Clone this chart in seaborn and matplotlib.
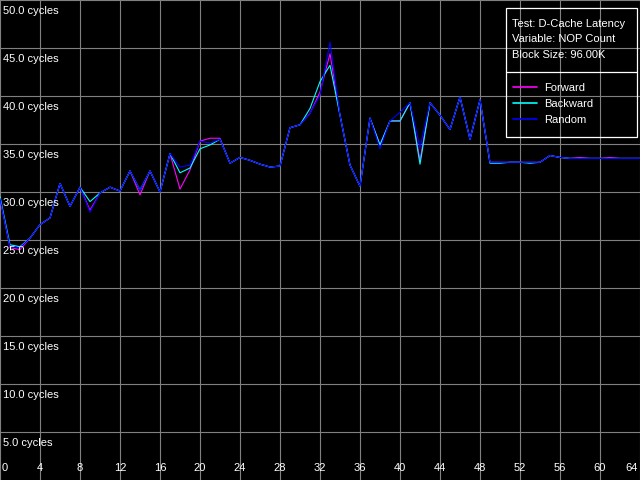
import numpy as np
import pandas as pd
import matplotlib
matplotlib.use('Agg')
import matplotlib.pyplot as plt
import seaborn as sns

# NOP count on x, latency in cycles on y
nops = list(range(65))

random_lat = [29.3, 24.3, 24.2, 25.2, 26.6, 27.3, 30.9, 28.5, 30.5, 27.9,
              29.9, 30.5, 30.1, 32.2, 30.2, 32.2, 30.0, 34.0, 32.6, 32.8,
              35.3, 35.1, 35.5, 33.0, 33.6, 33.3, 32.9, 32.6, 32.7, 36.7,
              37.0, 38.2, 40.1, 45.6, 38.0, 32.8, 30.6, 37.7, 34.5, 37.4,
              38.3, 39.3, 34.6, 39.3, 38.0, 36.5, 39.9, 35.5, 39.6, 33.1,
              33.1, 33.1, 33.1, 33.1, 33.1, 33.8, 33.6, 33.5, 33.5, 33.5,
              33.5, 33.5, 33.5, 33.5, 33.5]

forward_lat = [29.3, 24.2, 24.0, 25.2, 26.6, 27.3, 30.9, 28.5, 30.5, 28.1,
               29.9, 30.5, 30.1, 32.2, 29.7, 32.2, 30.0, 34.0, 30.3, 32.3,
               35.3, 35.6, 35.6, 33.0, 33.6, 33.3, 32.9, 32.6, 32.7, 36.7,
               37.0, 38.2, 40.4, 44.4, 38.0, 32.8, 30.6, 37.7, 34.9, 37.4,
               37.4, 39.3, 33.3, 39.3, 38.0, 36.5, 39.9, 35.5, 39.6, 33.1,
               33.1, 33.1, 33.1, 33.1, 33.1, 33.8, 33.6, 33.5, 33.6, 33.5,
               33.5, 33.6, 33.5, 33.5, 33.5]

backward_lat = [29.5, 24.5, 24.3, 25.2, 26.6, 27.3, 30.9, 28.5, 30.5, 29.0,
                29.9, 30.5, 30.1, 32.2, 30.2, 32.2, 30.0, 34.0, 32.0, 32.5,
                34.5, 34.9, 35.5, 33.0, 33.6, 33.3, 32.9, 32.6, 32.7, 36.7,
                37.0, 38.7, 41.5, 43.2, 38.0, 32.8, 30.6, 37.7, 34.9, 37.4,
                37.4, 39.3, 32.9, 39.3, 38.0, 36.5, 39.9, 35.5, 39.6, 33.0,
                33.0, 33.1, 33.1, 33.0, 33.1, 33.8, 33.6, 33.5, 33.5, 33.5,
                33.5, 33.5, 33.5, 33.5, 33.5]

series_names = ['Forward', 'Backward', 'Random']
colors = {'Forward': '#ff00ff', 'Backward': '#00ffff', 'Random': '#0000ff'}

x_ticks = list(range(0, 65, 4))
y_ticks = [5, 10, 15, 20, 25, 30, 35, 40, 45, 50]

info_lines = ['Test: D-Cache Latency', 'Variable: NOP Count', 'Block Size: 96.00K']

df = pd.DataFrame({
    'NOPs': nops * 3,
    'Cycles': forward_lat + backward_lat + random_lat,
    'Mode': ['Forward'] * 65 + ['Backward'] * 65 + ['Random'] * 65,
})

sns.set_theme(style='dark')
plt.rcParams['font.family'] = ['Liberation Sans', 'DejaVu Sans']

fig = plt.figure(figsize=(6.4, 4.8), dpi=100, facecolor='black')
ax = fig.add_axes([0, 0, 1, 1])
ax.set_facecolor('black')

sns.lineplot(data=df, x='NOPs', y='Cycles', hue='Mode', hue_order=series_names,
             palette=colors, linewidth=0.8, ax=ax, legend=True)

ax.set_xlim(0, 64)
ax.set_ylim(0, 50)
for v in x_ticks:
    ax.axvline(v, color='#808080', lw=0.8, zorder=0)
for v in y_ticks:
    ax.axhline(v, color='#808080', lw=0.8, zorder=0)
ax.set_xticks([])
ax.set_yticks([])
ax.set_xlabel('')
ax.set_ylabel('')
for s in ax.spines.values():
    s.set_visible(False)

fs = 8
# y labels sit just under their grid line
for v in y_ticks:
    ax.text(0.3, v - 1.15, f'{v:.1f} cycles', color='white', fontsize=fs,
            ha='left', va='center')
# x labels along the bottom
for v in x_ticks:
    ha = 'center'
    xx = v
    if v == 0:
        ha, xx = 'left', 0.2
    elif v == 64:
        ha, xx = 'right', 63.8
    ax.text(xx, 1.2, str(v), color='white', fontsize=fs, ha=ha, va='center')

# info box
W, H = 640.0, 480.0
def fx(px):
    return px / W
def fy(py):
    return 1 - py / H

box = plt.Rectangle((fx(505.5), fy(136.5)), fx(636.5) - fx(505.5), fy(8.5) - fy(136.5),
                    transform=ax.transAxes, fill=False, edgecolor='white', lw=0.9)
ax.add_patch(box)
ax.plot([fx(505.5), fx(636.5)], [fy(71.5), fy(71.5)], transform=ax.transAxes,
        color='white', lw=0.9)
for i, t in enumerate(info_lines):
    ax.text(fx(512.5), fy(24 + i * 15.5), t, transform=ax.transAxes,
            color='white', fontsize=fs, ha='left', va='center')

leg = ax.legend(loc='upper left', bbox_to_anchor=(fx(513), fy(83)), frameon=False,
                fontsize=fs, handlelength=2.15, handletextpad=0.65, labelspacing=0.55,
                borderpad=0, borderaxespad=0)
for txt in leg.get_texts():
    txt.set_color('white')
for ln in leg.get_lines():
    ln.set_linewidth(1.2)

fig.savefig('out.png', dpi=100, facecolor='black')
